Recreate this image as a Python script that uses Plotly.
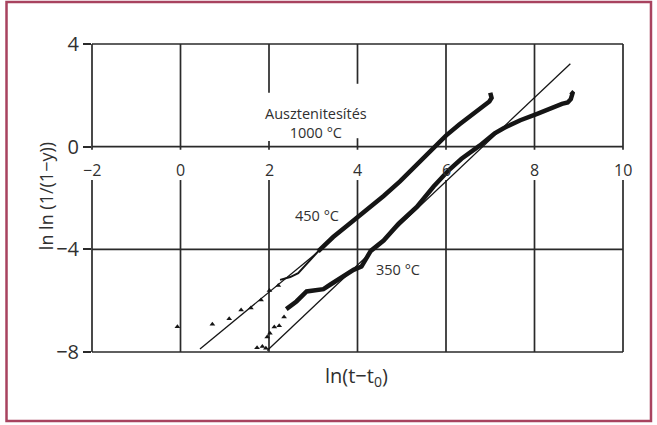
import plotly.graph_objects as go

# ---------------- data ----------------
# 450 °C : sparse early points (triangles)
t450_sparse_x = [-0.07, 0.72, 1.10, 1.37, 1.59, 1.82, 2.01, 2.21]
t450_sparse_y = [-7.02, -6.92, -6.70, -6.36, -6.29, -5.97, -5.60, -5.41]
# 450 °C : transition (thin wedge under the fit line)
t450_wedge_x = [2.25, 2.48, 2.66, 2.89, 3.00, 3.11]
t450_wedge_y = [-5.19, -5.08, -4.93, -4.51, -4.28, -4.08]
# 450 °C : dense measured curve
t450_x = [3.11, 3.45, 3.75, 4.06, 4.35, 4.59, 4.96, 5.34, 5.72, 6.00, 6.30, 6.55, 6.75, 6.90, 6.98, 7.03, 7.00]
t450_y = [-4.08, -3.52, -3.10, -2.68, -2.28, -1.92, -1.35, -0.72, -0.03, 0.43, 0.86, 1.20, 1.45, 1.66, 1.76, 1.90, 2.10]

# 350 °C : sparse early points (triangles)
t350_sparse_x = [1.73, 1.85, 1.93, 1.96, 2.02, 2.12, 2.23, 2.34]
t350_sparse_y = [-7.83, -7.79, -7.85, -7.42, -7.27, -7.03, -6.98, -6.64]
# 350 °C : dense measured curve
t350_x = [2.39, 2.62, 2.85, 3.08, 3.23, 3.38, 3.68, 3.91, 4.09, 4.30, 4.59, 4.93, 5.34, 5.72,
          6.06, 6.35, 6.76, 7.10, 7.30, 7.68, 8.06, 8.43, 8.62, 8.75, 8.82, 8.86, 8.82]
t350_y = [-6.33, -6.03, -5.64, -5.58, -5.55, -5.38, -5.03, -4.80, -4.67, -4.06, -3.66, -3.00, -2.35, -1.55,
          -0.92, -0.47, 0.04, 0.52, 0.72, 1.03, 1.28, 1.55, 1.67, 1.72, 1.85, 2.08, 2.14]

# fitted straight lines (end points)
fit450_x = [0.44, 3.15]
fit450_y = [-7.88, -4.04]
fit350_x = [1.96, 8.81]
fit350_y = [-7.94, 3.23]

x_ticks = [-2, 0, 2, 4, 6, 8, 10]
y_ticks = [-8, -4, 0, 4]

X_RANGE = [-2, 10]
Y_RANGE = [-8, 4]

GRID = "#2a2a2a"
TEXT = "#303030"
FRAME = "#a8435f"
FONT = "Open Sans, DejaVu Sans, sans-serif"

fig = go.Figure()

ink = "#151515"
fig.add_trace(go.Scatter(x=fit450_x, y=fit450_y, mode="lines",
                         line=dict(color=ink, width=1.3), hoverinfo="skip"))
fig.add_trace(go.Scatter(x=fit350_x, y=fit350_y, mode="lines",
                         line=dict(color=ink, width=1.3), hoverinfo="skip"))
for sx, sy in [(t450_sparse_x, t450_sparse_y), (t350_sparse_x, t350_sparse_y)]:
    fig.add_trace(go.Scatter(x=sx, y=sy, mode="markers",
                             marker=dict(symbol="triangle-up", size=5, color=ink),
                             hoverinfo="skip"))
fig.add_trace(go.Scatter(x=t450_wedge_x, y=t450_wedge_y, mode="lines",
                         line=dict(color=ink, width=2), hoverinfo="skip"))
fig.add_trace(go.Scatter(x=t450_x, y=t450_y, mode="lines",
                         line=dict(color=ink, width=4.5), hoverinfo="skip"))
fig.add_trace(go.Scatter(x=t350_x, y=t350_y, mode="lines",
                         line=dict(color=ink, width=4.5), hoverinfo="skip"))


def px(x):
    return (x - X_RANGE[0]) / (X_RANGE[1] - X_RANGE[0])


def py(y):
    return (y - Y_RANGE[0]) / (Y_RANGE[1] - Y_RANGE[0])


shapes = []
LW = 1.7
# horizontal grid lines
for yv in y_ticks:
    shapes.append(dict(type="line", xref="paper", yref="paper", x0=0, x1=1, y0=py(yv), y1=py(yv),
                       line=dict(color=GRID, width=LW), layer="below"))
# vertical grid lines with gaps for labels
tick_gap = (-0.12, -1.30)
text_gaps = {2: (2.10, 0.22), 4: (2.45, 0.33)}
for xv in x_ticks:
    gaps = [tick_gap]
    if xv in text_gaps:
        gaps.append(text_gaps[xv])
    gaps.sort(key=lambda g: -g[0])
    top = Y_RANGE[1]
    for g_top, g_bot in gaps:
        shapes.append(dict(type="line", xref="paper", yref="paper", x0=px(xv), x1=px(xv),
                           y0=py(top), y1=py(g_top), line=dict(color=GRID, width=LW), layer="below"))
        top = g_bot
    shapes.append(dict(type="line", xref="paper", yref="paper", x0=px(xv), x1=px(xv),
                       y0=py(top), y1=py(Y_RANGE[0]), line=dict(color=GRID, width=LW), layer="below"))

# outer frame
shapes.append(dict(type="rect", xref="paper", yref="paper",
                   x0=-0.161, x1=1.0527, y0=-0.224, y1=1.136,
                   line=dict(color=FRAME, width=2.5), layer="above"))

annotations = []
for xv in x_ticks:
    annotations.append(dict(x=xv, y=0, xref="x", yref="y", yshift=-23,
                            text=str(xv).replace("-", "−"), showarrow=False,
                            font=dict(family=FONT, size=16, color=TEXT)))
annotations += [
    dict(x=3.06, y=0.94, xref="x", yref="y", text="Ausztenitesítés<br>1000 °C", showarrow=False,
         font=dict(family=FONT, size=14.5, color=TEXT)),
    dict(x=3.08, y=-2.69, xref="x", yref="y", text="450 °C", showarrow=False,
         font=dict(family=FONT, size=14.5, color=TEXT)),
    dict(x=4.92, y=-4.80, xref="x", yref="y", text="350 °C", showarrow=False,
         font=dict(family=FONT, size=14.5, color=TEXT)),
    dict(x=0.499, y=-0.081, xref="paper", yref="paper", text="ln(t−t<sub>0</sub>)", showarrow=False,
         yanchor="middle", font=dict(family=FONT, size=20, color=TEXT)),
    dict(x=-0.0866, y=0.506, xref="paper", yref="paper", text="ln ln (1/(1−y))", showarrow=False,
         textangle=-90, xanchor="center", yanchor="middle",
         font=dict(family=FONT, size=18, color=TEXT)),
]

fig.update_layout(
    width=657, height=425,
    margin=dict(l=92, r=34, t=44, b=73),
    paper_bgcolor="white", plot_bgcolor="white",
    showlegend=False,
    shapes=shapes, annotations=annotations,
    xaxis=dict(range=X_RANGE, showgrid=False, zeroline=False, showticklabels=False,
               ticks="", showline=False, fixedrange=True),
    yaxis=dict(range=Y_RANGE, showgrid=False, zeroline=False, tickvals=y_ticks,
               ticktext=["−8", "−4", "0", "4"], ticks="outside", ticklen=8,
               tickwidth=1.5, tickcolor=GRID, showline=False,
               tickfont=dict(family=FONT, size=20, color=TEXT), fixedrange=True),
)

fig.write_html("out.html")
